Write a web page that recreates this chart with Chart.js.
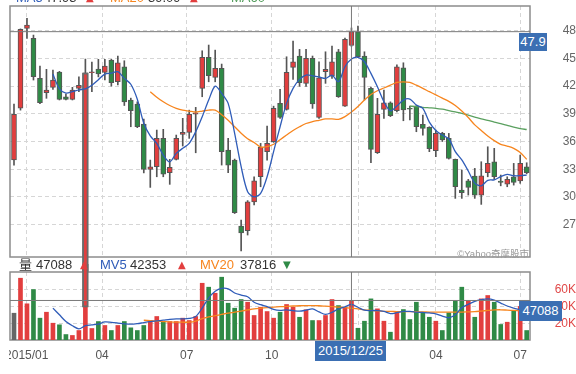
<!DOCTYPE html>
<html>
<head>
<meta charset="utf-8">
<script src="https://cdn.jsdelivr.net/npm/chart.js@4.4.1/dist/chart.umd.min.js"></script>
<style>
  body { margin: 0; width: 576px; height: 374px; overflow: hidden; background: #fff; position: relative;
         font-family: "Liberation Sans", Arial, "Noto Sans CJK TC", sans-serif; color: #333; }
  .abs { position: absolute; white-space: nowrap; }
  #topWrap { position: absolute; left: 0; top: 0; width: 576px; height: 272px; }
  #volWrap { position: absolute; left: 9px; top: 264px; width: 567px; height: 110px; overflow: hidden; }
  #volCanvas { position: absolute; left: -19px; top: 0; }
  .tag { position: absolute; background: #3b6fb3; color: #fff; font-size: 13px; text-align: center; }
  .tri { font-family: "DejaVu Sans", sans-serif; font-size: 10px; }
</style>
</head>
<body>
<div id="topWrap"><canvas id="priceCanvas" width="576" height="272"></canvas></div>
<div id="volWrap"><canvas id="volCanvas" width="586" height="110"></canvas></div>

<!-- ligne d'en-tête coupée en haut -->
<div class="abs" style="top:-9px;left:0;font-size:13px;line-height:13px">
  <span class="abs" style="left:16px;color:#2f5cb8">MA5</span>
  <span class="abs" style="left:44px">47.93</span>
  <span class="abs tri" style="left:86px;color:#e23e3e">▲</span>
  <span class="abs" style="left:110px;color:#f7851e">MA20</span>
  <span class="abs" style="left:148px">39.09</span>
  <span class="abs tri" style="left:190px;color:#e23e3e">▲</span>
  <span class="abs" style="left:231px;color:#4f9a58">MA60</span>
</div>

<!-- légende du volume -->
<div class="abs" style="top:257px;left:0;font-size:13px;line-height:16px">
  <span class="abs" style="left:19px">量</span>
  <span class="abs" style="left:36px">47088</span>
  <span class="abs tri" style="left:80px;color:#e23e3e">▲</span>
  <span class="abs" style="left:100px;color:#2f5cb8">MV5</span>
  <span class="abs" style="left:130px">42353</span>
  <span class="abs tri" style="left:178px;color:#e23e3e">▲</span>
  <span class="abs" style="left:200px;color:#f7851e">MV20</span>
  <span class="abs" style="left:240px">37816</span>
  <span class="abs tri" style="left:283px;color:#2f8a46">▼</span>
</div>

<div class="abs" style="right:47px;top:246px;font-size:9.5px;color:#999">©Yahoo奇摩股市</div>
<div class="tag" style="left:519px;top:33px;width:28px;height:18px;line-height:18px">47.9</div>
<div class="tag" style="left:519px;top:301px;width:43px;height:20px;line-height:20px">47088</div>
<div class="tag" style="left:315px;top:341px;width:71px;height:20px;line-height:20px">2015/12/25</div>

<script>
// bougies hebdomadaires, index 0 = semaine du 2014/12/19
const opens  = [34.0, 39.6, 48.26, 47.18, 42.84, 41.28, 41.87, 43.53, 40.85, 40.57,
                41.76, 0, 43.45, 43.85, 43.49, 44.83, 42.47, 44.1, 40.49, 40.06,
                37.9, 32.98, 33.27, 36.34, 32.62, 34.07, 36.78, 36.99, 38.97, 41.76,
                45.12, 42.95, 43.93, 35.07, 33.99, 26.84, 26.33, 29.47, 32.18, 34.89,
                35.97, 40.13, 39.48, 44.03, 45.26, 42.3, 45.01, 38.62, 43.56, 43.09,
                45.72, 39.84, 46.4, 47.89, 45.26, 41.76, 34.78, 39.48, 40.2, 39.33,
                43.99, 39.55, 39.84, 37.86, 37.53, 35.0, 36.88, 36.34, 34.07, 30.74,
                31.75, 32.26, 30.2, 32.62, 33.81, 31.72, 31.39, 32.18, 31.72, 33.27]
const highs  = [40.06, 48.2, 49.34, 47.53, 44.18, 43.82, 43.74, 43.6, 41.14, 41.87,
                43.02, 44.93, 44.6, 44.9, 44.9, 44.9, 45.26, 44.75, 40.7, 40.3,
                38.43, 33.99, 37.24, 37.32, 34.07, 36.7, 38.51, 39.4, 39.7, 45.83,
                46.45, 45.9, 44.39, 36.34, 34.1, 27.49, 29.6, 32.18, 35.8, 37.67,
                39.83, 41.65, 45.18, 46.88, 45.98, 45.98, 45.26, 44.64, 45.72, 46.34,
                45.98, 47.2, 48.3, 48.5, 45.72, 41.9, 40.68, 41.58, 40.3, 44.3,
                44.53, 39.84, 39.9, 38.87, 37.6, 37.24, 37.0, 36.88, 34.1, 32.91,
                31.9, 33.09, 33.81, 35.43, 35.26, 32.37, 32.18, 33.63, 34.53, 33.7]
const lows   = [33.45, 39.4, 47.18, 42.66, 40.1, 40.68, 41.65, 40.5, 40.5, 40.5,
                41.39, 0, 41.4, 43.0, 42.66, 42.0, 42.12, 39.9, 37.6, 37.5,
                32.6, 31.03, 32.18, 32.18, 31.36, 34.0, 35.51, 36.34, 34.78, 40.85,
                42.47, 42.47, 33.45, 32.62, 28.2, 24.16, 25.87, 29.12, 31.1, 33.99,
                35.9, 38.51, 39.4, 42.73, 41.98, 41.98, 39.59, 38.5, 42.3, 42.84,
                40.78, 39.8, 46.3, 45.1, 40.5, 33.7, 34.7, 38.51, 38.7, 39.2,
                38.25, 38.33, 37.06, 36.7, 34.9, 34.35, 36.0, 34.1, 29.84, 29.84,
                30.2, 29.84, 29.19, 32.18, 31.9, 31.2, 31.1, 31.28, 31.47, 32.5]
const closes = [38.94, 48.15, 48.6, 43.02, 40.2, 41.58, 42.66, 40.57, 40.57, 41.58,
                42.08, 43.45, 43.55, 43.31, 44.18, 42.37, 44.53, 40.3, 39.33, 37.6,
                32.98, 33.27, 36.34, 32.47, 33.2, 36.34, 36.99, 38.94, 39.1, 45.12,
                43.12, 43.93, 34.89, 33.45, 28.28, 26.11, 29.47, 31.75, 35.37, 35.8,
                39.59, 38.62, 43.49, 44.64, 42.37, 45.01, 40.06, 42.91, 43.82, 44.64,
                40.85, 47.07, 47.9, 45.18, 42.95, 35.15, 38.94, 40.2, 38.79, 44.1,
                39.41, 39.5, 37.6, 37.43, 35.22, 36.88, 36.16, 34.18, 31.1, 30.45,
                31.03, 30.2, 32.29, 33.63, 32.18, 31.57, 31.9, 31.57, 33.63, 32.62]

// moyennes mobiles
const ma5 = [null, null, null, null, null, null, 43.3, 41.7, 41.25, 41.4,
             41.6, 41.7, 42.1, 42.7, 43.3, 43.4, 43.56, 42.84, 42.2, 40.57,
             37.97, 36.6, 35.8, 34.53, 33.8, 34.72, 35.26, 35.8, 37.06, 38.68,
             40.49, 42.0, 41.22, 40.13, 36.88, 33.27, 30.56, 30.0, 30.38, 32.18,
             34.9, 37.6, 40.13, 41.76, 42.73, 43.2, 43.12, 43.0, 42.84, 43.2,
             42.47, 44.1, 44.93, 45.12, 44.64, 43.38, 41.93, 40.31, 39.33, 39.84,
             40.49, 40.6, 39.95, 39.6, 38.1, 37.2, 36.7, 36.3, 34.9, 34.0,
             32.8, 31.5, 31.2, 31.8, 31.85, 32.2, 32.45, 32.3, 32.3, 32.37]
const ma20 = [null, null, null, null, null, null, null, null, null, null,
              null, null, null, null, null, null, null, null, null, null,
              null, 41.4, 40.8, 40.3, 39.9, 39.6, 39.4, 39.3, 39.2, 39.3,
              39.4, 39.4, 38.9, 38.3, 37.6, 36.9, 36.3, 35.9, 35.4, 35.45,
              35.7, 36.2, 36.7, 37.2, 37.6, 37.95, 38.15, 38.3, 38.45, 38.45,
              38.4, 38.7, 39.2, 39.8, 40.5, 41.1, 41.5, 41.8, 42.1, 42.4,
              42.47, 42.4, 42.1, 41.76, 41.4, 41.05, 40.7, 40.35, 39.9, 39.3,
              38.6, 37.8, 37.2, 36.6, 36.1, 35.7, 35.5, 35.25, 34.8, 34.07]
const ma60 = [null, null, null, null, null, null, null, null, null, null,
              null, null, null, null, null, null, null, null, null, null,
              null, null, null, null, null, null, null, null, null, null,
              null, null, null, null, null, null, null, null, null, null,
              null, null, null, null, null, null, null, null, null, null,
              null, null, null, null, null, null, null, null, null, null,
              null, 39.84, 39.78, 39.7, 39.65, 39.6, 39.5, 39.35, 39.2, 39.05,
              38.85, 38.65, 38.45, 38.3, 38.1, 37.95, 37.75, 37.55, 37.4, 37.3]

// volume (lots) et sens : r = hausse, g = baisse, k = neutre
const volumes = [31900, 73600, 43100, 60100, 26000, 33100, 20000, 18100, 6500, 5400,
                 11300, 39000, 13700, 22000, 17300, 11300, 17300, 22000, 14500, 11300,
                 17300, 23200, 28000, 21200, 22000, 22000, 26000, 23200, 28000, 67600,
                 62900, 55700, 74800, 43800, 37900, 48200, 45000, 29200, 39000, 33900,
                 26000, 33100, 42300, 39000, 27100, 36000, 23200, 23200, 29200, 48200,
                 41000, 39000, 47088, 14000, 22400, 49000, 37100, 22400, 9300, 33100,
                 36300, 24400, 45000, 31900, 27100, 22400, 11300, 32400, 46200, 62900,
                 46200, 27100, 49000, 53000, 45000, 18500, 21200, 35100, 40000, 11300]
const volDir = "krrggrrggrrrrgrgrgggg" + "rrgrrrrrrgrggggrrrrr" + "grrgrgrrrgrrgggrrgrg" + "ggggrggggrgrrggrgrg"
const mv5 = [null, null, null, null, null, null, 38000, 30000, 22000, 17000,
             13300, 17000, 18000, 19000, 21500, 21000, 20200, 19300, 18800, 19500,
             20700, 21800, 22700, 23600, 24600, 25200, 25200, 25700, 28000, 38000,
             50000, 58000, 61500, 61000, 56000, 53500, 51500, 45000, 42000, 39800,
             36500, 35300, 36000, 35000, 34300, 35500, 37000, 33500, 30500, 33000,
             37000, 39500, 42353, 39000, 35500, 35100, 35100, 34000, 31500, 32500,
             34000, 34000, 33300, 32800, 32200, 31200, 28500, 26500, 30000, 38500,
             42500, 46000, 48000, 49000, 47500, 44000, 40500, 38000, 35800, 33500]
const mv20 = [null, null, null, null, null, null, null, null, null, null,
              null, null, null, null, null, null, null, null, null, null,
              23500, 23000, 22500, 22000, 21500, 21200, 21200, 21200, 22500, 25500,
              27500, 29000, 30500, 32000, 33200, 34500, 35800, 37000, 37800, 38500,
              39200, 39700, 40000, 40500, 40800, 41000, 41000, 40800, 40300, 39800,
              39200, 38600, 37816, 37000, 36000, 35300, 34600, 34200, 34000, 33900,
              33900, 33800, 33700, 33500, 33300, 33200, 33100, 33100, 33100, 33200,
              33500, 33800, 34500, 35200, 35800, 36000, 35600, 35200, 34800, 34300]

// axe du temps : premières semaines de chaque trimestre
const monthTicks  = [1.96, 13.57, 26.61, 39.7, 53.11, 65.02, 78.01]
const monthLabels = ["2015/01", "04", "07", "10", "01", "04", "07"]
const priceTicks  = [27, 30, 33, 36, 39, 42, 45, 48]
const volumeTicks = [20000, 40000, 60000]

// curseur sur la semaine du 2015/12/25
const cursorIndex  = 52
const cursorPrice  = 47.9
const cursorVolume = 47088
// semaine 11 : ouverture à 0 dans les données, la bougie traverse les deux panneaux
const glitchIndex  = 11
const spikeTop     = 200000

const X_MIN = -0.616, X_MAX = 79.51
const P_MIN = 23.49, P_MAX = 50.68
const V_MAX = 81000

const RED = "#e23e3e", GREEN = "#2f8a46", GREY = "#666"
const BLUE_LINE = "#2f5cb8", ORANGE_LINE = "#f7851e", GREEN_LINE = "#5aa05f"
const GRID = "#d6d6d6"
const FONT = "'Liberation Sans', Arial, sans-serif"

const idx = closes.map((_, i) => i)
const pts = arr => idx.map(i => ({ x: i, y: arr[i] }))

// cadre gris autour de la zone du graphe
const framePlugin = {
  id: "frame",
  beforeDatasetsDraw(chart) {
    const { ctx, chartArea: a } = chart
    ctx.save()
    ctx.strokeStyle = "#8c8c8c"
    ctx.lineWidth = 1.5
    ctx.strokeRect(a.left, a.top, a.right - a.left, a.bottom - a.top)
    ctx.restore()
  }
}

const lineDs = (data, color, order) => ({
  type: "line", data, borderColor: color, borderWidth: 1.3, pointRadius: 0,
  tension: 0.3, spanGaps: false, order
})
const cursorDs = data => ({
  type: "line", data, borderColor: "#7a7a7a", borderWidth: 1, pointRadius: 0, tension: 0, order: 0
})
const glitchDs = data => ({
  data, backgroundColor: RED, borderColor: "#6a6a6a", borderWidth: 2, borderSkipped: false,
  barThickness: 6, grouped: false, clip: false, order: 1
})

const xScale = (showLabels) => ({
  type: "linear", min: X_MIN, max: X_MAX, offset: false,
  grid: { color: GRID, offset: false, drawTicks: showLabels, tickLength: 8, tickColor: "rgba(0,0,0,0)" },
  border: { display: false, dash: [4, 3] },
  ticks: {
    display: showLabels, padding: 0, maxRotation: 0, autoSkip: false,
    color: "#555", font: { family: FONT, size: 12 },
    callback: (v, i) => monthLabels[i]
  },
  afterBuildTicks: s => { s.ticks = monthTicks.map(v => ({ value: v })) },
  afterFit: s => { s.height = showLabels ? 34 : 0 }
})

// --- graphe des cours ---
new Chart(document.getElementById("priceCanvas"), {
  type: "bar",
  data: {
    datasets: [
      cursorDs([{ x: cursorIndex, y: P_MIN }, { x: cursorIndex, y: P_MAX }]),
      cursorDs([{ x: X_MIN, y: cursorPrice }, { x: X_MAX, y: cursorPrice }]),
      lineDs(pts(ma5), BLUE_LINE, 1),
      lineDs(pts(ma20), ORANGE_LINE, 1),
      lineDs(pts(ma60), GREEN_LINE, 1),
      glitchDs([{ x: glitchIndex, y: [opens[glitchIndex], closes[glitchIndex]] }]),
      {
        // corps des bougies
        data: idx.map(i => ({ x: i, y: [opens[i], closes[i]] })),
        backgroundColor: idx.map(i => closes[i] >= opens[i] ? RED : GREEN),
        borderColor: "#555", borderWidth: 1, borderSkipped: false,
        barThickness: 5, minBarLength: 1, grouped: false, order: 2
      },
      {
        // mèches
        data: idx.map(i => ({ x: i, y: [lows[i], highs[i]] })),
        backgroundColor: "#555", barThickness: 1, grouped: false, order: 3
      }
    ]
  },
  options: {
    responsive: false, animation: false, devicePixelRatio: 1, events: [],
    layout: { padding: { left: 10, top: 6, right: 0, bottom: 15 } },
    plugins: { legend: { display: false }, tooltip: { enabled: false } },
    scales: {
      x: xScale(false),
      y: {
        position: "right", min: P_MIN, max: P_MAX,
        grid: { color: GRID, drawTicks: true, tickLength: 17, tickColor: "rgba(0,0,0,0)" },
        border: { display: false, dash: [4, 3] },
        ticks: { padding: 0, crossAlign: "far", color: "#666", font: { family: FONT, size: 12, lineHeight: 1 } },
        afterBuildTicks: s => { s.ticks = priceTicks.map(v => ({ value: v })) },
        afterFit: s => { s.width = 46 }
      }
    }
  },
  plugins: [framePlugin]
})

// --- graphe des volumes ---
new Chart(document.getElementById("volCanvas"), {
  type: "bar",
  data: {
    datasets: [
      cursorDs([{ x: cursorIndex, y: 0 }, { x: cursorIndex, y: V_MAX }]),
      cursorDs([{ x: X_MIN, y: cursorVolume }, { x: X_MAX, y: cursorVolume }]),
      lineDs(pts(mv5), BLUE_LINE, 1),
      lineDs(pts(mv20), ORANGE_LINE, 1),
      glitchDs([{ x: glitchIndex, y: [volumes[glitchIndex], spikeTop] }]),
      {
        data: pts(volumes),
        backgroundColor: idx.map(i => ({ r: RED, g: GREEN, k: GREY })[volDir[i]]),
        barThickness: 4, grouped: false, order: 3
      }
    ]
  },
  options: {
    responsive: false, animation: false, devicePixelRatio: 1, events: [],
    layout: { padding: { left: 20, top: 8, right: 0, bottom: 0 } },
    plugins: { legend: { display: false }, tooltip: { enabled: false } },
    scales: {
      x: xScale(true),
      y: {
        position: "right", min: 0, max: V_MAX,
        grid: { color: GRID, drawTicks: true, tickLength: 9, tickColor: "rgba(0,0,0,0)" },
        border: { display: false, dash: [4, 3] },
        ticks: {
          padding: 0, crossAlign: "far", color: "#e04848",
          font: { family: FONT, size: 12, lineHeight: 1 },
          callback: v => (v / 1000) + "K"
        },
        afterBuildTicks: s => { s.ticks = volumeTicks.map(v => ({ value: v })) },
        afterFit: s => { s.width = 46 }
      }
    }
  },
  plugins: [framePlugin]
})
</script>
</body>
</html>
